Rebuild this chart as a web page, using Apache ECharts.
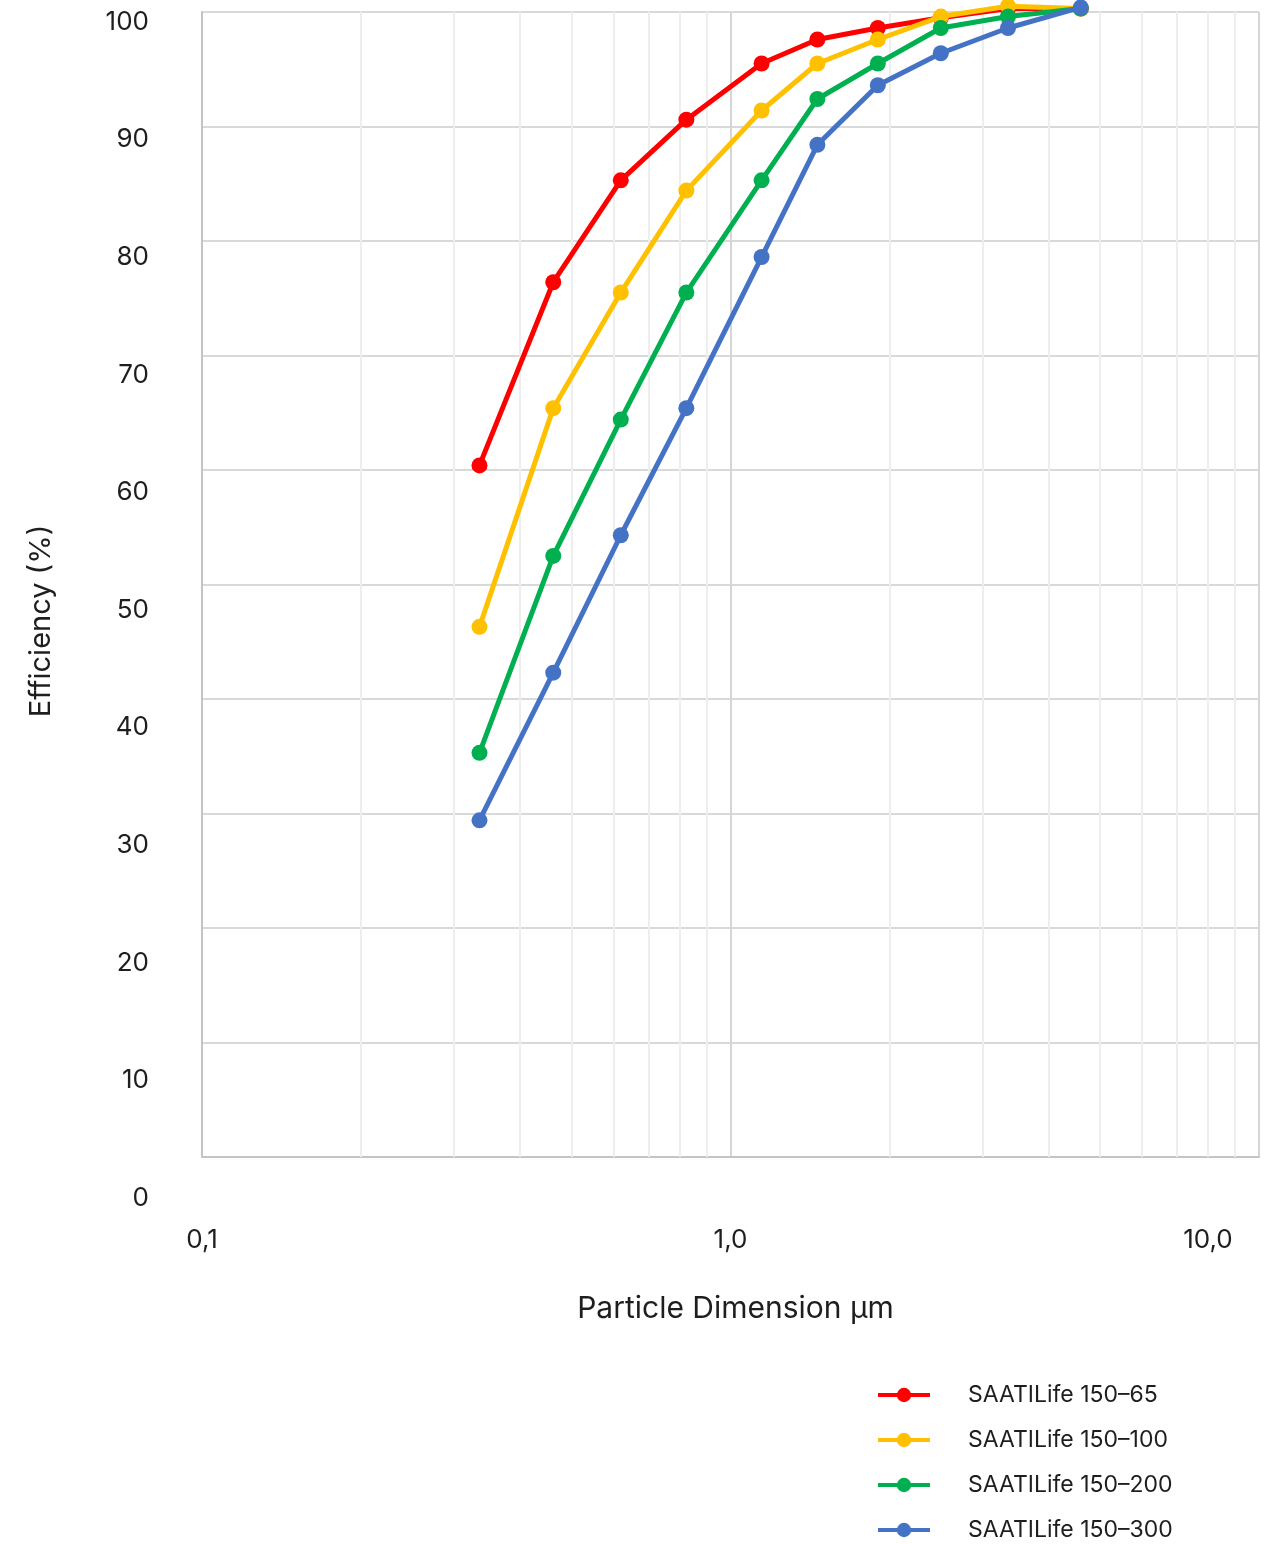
<!DOCTYPE html>
<html>
<head>
<meta charset="utf-8">
<script src="https://cdn.jsdelivr.net/npm/echarts@6/dist/echarts.min.js"></script>
<style>
html,body{margin:0;padding:0;background:#fff;}
#chart{width:1271px;height:1544px;}
</style>
</head>
<body>
<div id="chart"></div>
<script>
const particleSizes = [0.335, 0.462, 0.62, 0.825, 1.145, 1.46, 1.9, 2.5, 3.35, 4.6];
const seriesNames = ['SAATILife 150–65', 'SAATILife 150–100', 'SAATILife 150–200', 'SAATILife 150–300'];
const eff65  = [60.4, 76.4, 85.3, 90.6, 95.5, 97.6, 98.6, 99.5, 100.3, 100.3];
const eff100 = [46.3, 65.4, 75.5, 84.4, 91.4, 95.5, 97.6, 99.6, 100.5, 100.3];
const eff200 = [35.3, 52.5, 64.4, 75.5, 85.3, 92.4, 95.5, 98.6, 99.6, 100.3];
const eff300 = [29.4, 42.3, 54.3, 65.4, 78.6, 88.4, 93.6, 96.4, 98.6, 100.4];
const minorGridValues = [0.2,0.3,0.4,0.5,0.6,0.7,0.8,0.9,2,3,4,5,6,7,8,9];
const xTickLabels = {'0.1':'0,1','1':'1,0','10':'10,0'};
const colors = ['#ff0000', '#ffc000', '#00b050', '#4472c4'];

const allValues = [eff65, eff100, eff200, eff300];
const FONT = 'Inter';
const TXT = '#1e1e1e';
const chart = echarts.init(document.getElementById('chart'));

const series = allValues.map((vals, i) => ({
  name: seriesNames[i],
  type: 'line',
  xAxisIndex: 0,
  yAxisIndex: 0,
  data: vals.map((v, j) => [particleSizes[j], v]),
  symbol: 'circle',
  symbolSize: 16,
  clip: false,
  z: 3 + i,
  lineStyle: {color: colors[i], width: 5},
  itemStyle: {color: colors[i]},
  emphasis: {disabled: true},
  animation: false
}));
series[0].markLine = {
  silent: true,
  z: 1,
  symbol: ['none', 'none'],
  label: {show: false},
  lineStyle: {color: '#eeeeee', width: 2, type: 'solid'},
  data: minorGridValues.map(v => ({xAxis: v})),
  animation: false
};

chart.setOption({
  animation: false,
  textStyle: {fontFamily: FONT, color: TXT},
  grid: [
    {left: 202, right: 12, top: 12, bottom: 387},
    {left: 202, right: 12, top: 22, bottom: 346}
  ],
  xAxis: [
    {
      type: 'log', logBase: 10, min: 0.1, max: 10, gridIndex: 0,
      axisLine: {show: true, lineStyle: {color: '#c4c4c4', width: 2}},
      axisTick: {show: false},
      splitLine: {show: true, lineStyle: {color: '#d6d6d6', width: 2}},
      axisLabel: {
        show: true, margin: 70, fontSize: 26, color: TXT, fontFamily: FONT,
        showMaxLabel: true, showMinLabel: true,
        formatter: function (v) {
          const key = String(Math.round(v * 10) / 10);
          const t = xTickLabels[key] || '';
          return key === '10' ? '{r|' + t + '}' : t;
        },
        rich: {r: {fontSize: 26, color: TXT, fontFamily: FONT, padding: [0, 102, 0, 0]}}
      },
      name: 'Particle Dimension µm',
      nameLocation: 'middle',
      nameGap: 137,
      nameTextStyle: {fontSize: 30, color: TXT, fontFamily: FONT, padding: [0, 0, 0, 10]}
    },
    {type: 'value', gridIndex: 1, min: 0, max: 1, show: false}
  ],
  yAxis: [
    {
      type: 'value', min: 0, max: 100, interval: 10, gridIndex: 0,
      axisLine: {show: true, lineStyle: {color: '#c4c4c4', width: 2}},
      axisTick: {show: false},
      axisLabel: {show: false},
      splitLine: {show: true, lineStyle: {color: '#d9d9d9', width: 2}}
    },
    {
      type: 'value', min: 0, max: 100, interval: 10, gridIndex: 1,
      axisLine: {show: false}, axisTick: {show: false}, splitLine: {show: false},
      axisLabel: {show: true, margin: 53, fontSize: 26, color: TXT, fontFamily: FONT, align: 'right'}
    }
  ],
  legend: {
    orient: 'vertical',
    left: 876,
    top: 1383,
    padding: 0,
    itemWidth: 52,
    itemHeight: 18,
    itemGap: 21,
    selectedMode: false,
    lineStyle: {width: 4},
    textStyle: {fontSize: 23, color: TXT, fontFamily: FONT, lineHeight: 24, padding: [0, 0, 0, 33]},
    data: seriesNames
  },
  graphic: [{
    type: 'text',
    x: 41, y: 621,
    rotation: Math.PI / 2,
    style: {text: 'Efficiency (%)', font: '29px Inter', fill: TXT, align: 'center', verticalAlign: 'middle'}
  }],
  series: series
});
</script>
</body>
</html>
